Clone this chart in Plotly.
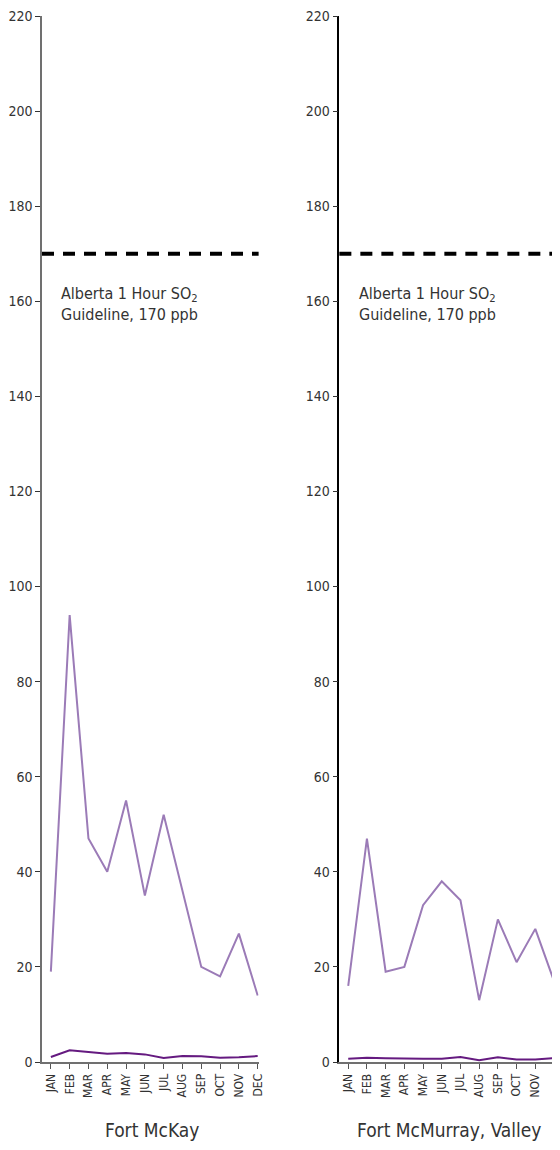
import plotly.graph_objects as go

months = ["JAN", "FEB", "MAR", "APR", "MAY", "JUN", "JUL", "AUG", "SEP", "OCT", "NOV", "DEC"]
stations = ["Fort McKay", "Fort McMurray, Valley"]
mckay_max = [19, 94, 47, 40, 55, 35, 52, 36, 20, 18, 27, 14]
mckay_mean = [1.05, 2.45, 2.1, 1.75, 1.9, 1.6, 0.85, 1.25, 1.2, 0.9, 1.0, 1.25]
valley_max = [16, 47, 19, 20, 33, 38, 34, 13, 30, 21, 28, 17]
valley_mean = [0.7, 0.9, 0.8, 0.7, 0.7, 0.7, 1.05, 0.35, 1.0, 0.55, 0.55, 0.8]
guideline = 170
yticks = list(range(0, 221, 20))

FONT = "DejaVu Sans Condensed, Liberation Sans Narrow, sans-serif"
MAX_C = "#9b7bb7"
MEAN_C = "#651a80"
xs = list(range(len(months)))

# page has an 8px body margin; figure placed so that plot area spans page x 40..560, y 14..1062
W, H = 552, 1134
ML, MT = 32, 6
PW = W - ML
PH = 1048
MB = H - MT - PH

fig = go.Figure()
for i, (mx, mn) in enumerate([(mckay_max, mckay_mean), (valley_max, valley_mean)]):
    xa = "x" if i == 0 else "x2"
    ya = "y" if i == 0 else "y2"
    fig.add_trace(go.Scatter(x=xs, y=mx, mode="lines", line=dict(color=MAX_C, width=2),
                             xaxis=xa, yaxis=ya, showlegend=False, cliponaxis=True))
    fig.add_trace(go.Scatter(x=xs, y=mn, mode="lines", line=dict(color=MEAN_C, width=2),
                             xaxis=xa, yaxis=ya, showlegend=False, cliponaxis=False))

common_x = dict(tickvals=xs, ticktext=months, tickangle=-90, ticks="outside", ticklen=5,
                tickcolor="#555", showgrid=False, zeroline=False, showline=True,
                linecolor="#707070", linewidth=2, tickfont=dict(family=FONT, size=12, color="#333"),
                fixedrange=True)
common_y = dict(range=[0, 220], tickvals=yticks, ticks="outside", ticklen=5, showgrid=False,
                zeroline=False, showline=True, linewidth=1.5, ticklabeloverflow="allow",
                tickfont=dict(family=FONT, size=14, color="#333"), fixedrange=True)

fig.update_layout(
    width=W, height=H,
    margin=dict(l=ML, r=0, t=MT, b=MB),
    plot_bgcolor="white", paper_bgcolor="white",
    xaxis=dict(domain=[0, 220 / PW], range=[-0.471, 11.05], **common_x),
    xaxis2=dict(domain=[302 / PW, 1], range=[-0.474, 11.0], anchor="y2", **common_x),
    yaxis=dict(anchor="x", linecolor="#707070", tickcolor="#333", **common_y),
    yaxis2=dict(anchor="x2", linecolor="#000000", tickcolor="#333", **common_y),
)

for i, (xa, ya) in enumerate([("x", "y"), ("x2", "y2")]):
    fig.add_shape(type="line", xref=f"{xa} domain", yref=ya, x0=0, x1=1, y0=guideline, y1=guideline,
                  line=dict(color="black", width=4, dash="12px,9px"))
    fig.add_annotation(xref=f"{xa} domain", yref=ya, x=0.08, y=164,
                       xanchor="left", yanchor="top", align="left", showarrow=False,
                       text="Alberta 1 Hour SO<sub>2</sub><br>Guideline, 170 ppb",
                       font=dict(family=FONT, size=16, color="#333"))

for j, cx in enumerate([152, 453]):
    fig.add_annotation(xref="paper", yref="paper", x=(cx - 40) / PW, y=(1062 - 1130) / PH,
                       xanchor="center", yanchor="middle", showarrow=False, text=stations[j],
                       font=dict(family=FONT, size=19, color="#333"))

fig.write_html("out.html")
